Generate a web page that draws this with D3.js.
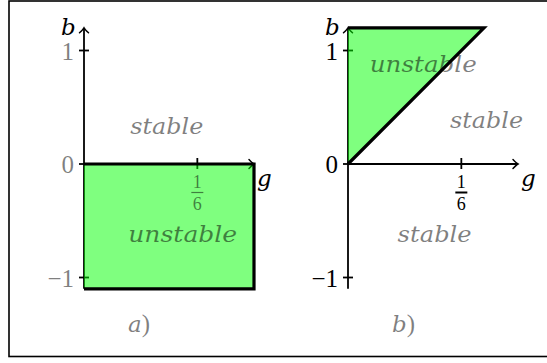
<!DOCTYPE html>
<html>
<head>
<meta charset="utf-8">
<script src="https://cdn.jsdelivr.net/npm/d3@7/dist/d3.min.js"></script>
<style>
  html, body { margin: 0; padding: 0; background: #fff; }
  svg { display: block; }
</style>
</head>
<body>
<script>
// Stability regions in the (g, b) plane for two cases.
const gDomain = [0, 0.25];
const bDomain = [-1.1, 1.2];
const gTicks = [1 / 6];
const bTicks = [-1, 0, 1];
const bTickLabels = ["\u22121", "0", "1"];

// Unstable region (filled) and its drawn boundary, per panel
const regionA = [[0, 0], [0.25, 0], [0.25, -1.1], [0, -1.1]];
const boundaryA = [[0, 0], [0.25, 0], [0.25, -1.1], [0, -1.1]];
const regionB = [[0, 0], [0, 1.2], [0.2, 1.2]];
const boundaryB = [[0, 1.2], [0.2, 1.2], [0, 0]];

// Region labels: [text, g, b, width]
const labelsA = [["stable", 0.068, 0.26, 73], ["unstable", 0.065, -0.69, 109]];
const labelsB = [["unstable", 0.032, 0.81, 107], ["stable", 0.150, 0.32, 73], ["stable", 0.073, -0.69, 74]];

const FONT = "'Liberation Serif', 'DejaVu Serif', serif";
const IFONT = "'DejaVu Serif', serif";
const W = 547, H = 363;
const svg = d3.select("body").append("svg").attr("width", W).attr("height", H);

// outer frame
svg.append("rect").attr("x", 9).attr("y", 1).attr("width", 545).attr("height", 355.5)
  .attr("fill", "none").attr("stroke", "#000").attr("stroke-width", 1.6);

const bScale = d3.scaleLinear().domain(bDomain).range([164 + 1.1 * 113.5, 164 - 1.2 * 113.5]);

function txt(sel) {
  return sel.append("text").attr("font-family", FONT);
}
function itxt(sel) {
  return sel.append("text").attr("font-family", IFONT).attr("font-style", "italic");
}

function panel(x0, opts) {
  const gScale = d3.scaleLinear().domain(gDomain).range([x0, x0 + 0.25 * 680]);
  const g = svg.append("g");
  const X0 = gScale(0), Y0 = bScale(0);
  const axisW = 1.8;

  // axes
  g.append("line").attr("x1", X0).attr("x2", gScale(gDomain[1]) - 0.5)
    .attr("y1", Y0).attr("y2", Y0).attr("stroke", "#000").attr("stroke-width", axisW);
  g.append("line").attr("x1", X0).attr("x2", X0)
    .attr("y1", bScale(bDomain[0])).attr("y2", bScale(bDomain[1]) + 0.5)
    .attr("stroke", "#000").attr("stroke-width", axisW);
  // arrow heads
  const xe = gScale(gDomain[1]), ye = bScale(bDomain[1]);
  g.append("path").attr("d", `M${xe - 5},${Y0 - 4.5} Q${xe - 1.5},${Y0 - 0.8} ${xe},${Y0} Q${xe - 1.5},${Y0 + 0.8} ${xe - 5},${Y0 + 4.5}`)
    .attr("fill", "none").attr("stroke", "#000").attr("stroke-width", 1.5).attr("stroke-linecap", "round");
  g.append("path").attr("d", `M${X0 - 4.5},${ye + 5} Q${X0 - 0.8},${ye + 1.5} ${X0},${ye} Q${X0 + 0.8},${ye + 1.5} ${X0 + 4.5},${ye + 5}`)
    .attr("fill", "none").attr("stroke", "#000").attr("stroke-width", 1.5).attr("stroke-linecap", "round");

  // ticks
  g.selectAll(".bt").data(bTicks).join("line")
    .attr("x1", X0 - 5).attr("x2", X0 + 5)
    .attr("y1", d => bScale(d)).attr("y2", d => bScale(d))
    .attr("stroke", "#000").attr("stroke-width", axisW);
  g.selectAll(".gt").data(gTicks).join("line")
    .attr("x1", d => gScale(d)).attr("x2", d => gScale(d))
    .attr("y1", Y0 - 6).attr("y2", Y0 + 5)
    .attr("stroke", "#000").attr("stroke-width", axisW);

  // unstable region
  const line = d3.line().x(d => gScale(d[0])).y(d => bScale(d[1]));
  g.append("path").attr("d", line(opts.region) + "Z")
    .attr("fill", "rgb(0,255,0)").attr("fill-opacity", 0.5);

  const tickOpacity = opts.grayTicks ? 0.5 : 1;
  // b tick labels
  g.selectAll(".bl").data(bTicks).join("text").attr("font-family", FONT)
    .attr("x", X0 - 10).attr("y", d => bScale(d) + 9)
    .attr("text-anchor", "end").attr("font-size", 25)
    .attr("fill", "#000").attr("fill-opacity", tickOpacity)
    .text((d, i) => bTickLabels[i]);

  // g tick labels as fractions 1/6
  gTicks.forEach(t => {
    const cx = gScale(t);
    txt(g).attr("x", cx).attr("y", Y0 + 24)
      .attr("text-anchor", "middle").attr("font-size", 18)
      .attr("fill", "#000").attr("fill-opacity", tickOpacity).text("1");
    g.append("line").attr("x1", cx - 6).attr("x2", cx + 6)
      .attr("y1", Y0 + 28.5).attr("y2", Y0 + 28.5)
      .attr("stroke", "#000").attr("stroke-opacity", tickOpacity)
      .attr("stroke-width", opts.grayTicks ? 1.2 : 2);
    txt(g).attr("x", cx).attr("y", Y0 + 46)
      .attr("text-anchor", "middle").attr("font-size", 18)
      .attr("fill", "#000").attr("fill-opacity", tickOpacity).text("6");
  });

  // axis names
  itxt(g).attr("font-size", 23)
    .attr("x", X0 - 23).attr("y", bScale(bDomain[1]) + 7).text("b");
  itxt(g).attr("font-size", 23)
    .attr("x", gScale(gDomain[1]) + 3).attr("y", Y0 + 22).text("g");

  // region labels
  g.selectAll(".rl").data(opts.labels).join("text").attr("font-family", IFONT)
    .attr("font-style", "italic").attr("font-size", 23)
    .attr("x", d => gScale(d[1])).attr("y", d => bScale(d[2]))
    .attr("textLength", d => d[3]).attr("lengthAdjust", "spacingAndGlyphs")
    .attr("fill", "#000").attr("fill-opacity", 0.5)
    .text(d => d[0]);

  // boundary of the unstable region
  g.append("path").attr("d", line(opts.boundary))
    .attr("fill", "none").attr("stroke", "#000").attr("stroke-width", 3.2)
    .attr("stroke-linejoin", "miter");

  // panel caption
  const cap = txt(g).attr("font-size", 25)
    .attr("x", opts.capX).attr("y", 332).attr("fill", "#000").attr("fill-opacity", 0.5);
  cap.append("tspan").attr("font-family", IFONT).attr("font-style", "italic").attr("font-size", 23).text(opts.caption);
  cap.append("tspan").text(")");
}

panel(84, { region: regionA, boundary: boundaryA, labels: labelsA, grayTicks: true, caption: "a", capX: 128 });
panel(348, { region: regionB, boundary: boundaryB, labels: labelsB, grayTicks: false, caption: "b", capX: 392 });
</script>
</body>
</html>
